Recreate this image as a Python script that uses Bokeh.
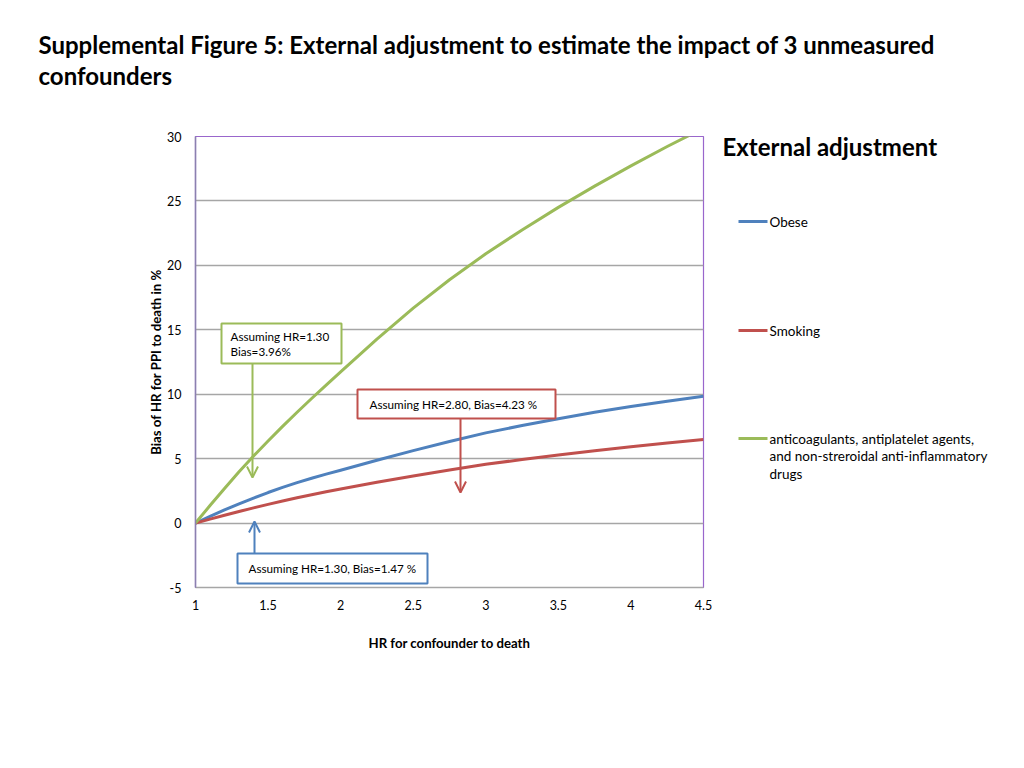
from bokeh.plotting import figure
from bokeh.layouts import column, row
from bokeh.models import (Range1d, Label, BoxAnnotation, Arrow, OpenHead,
                          FixedTicker, CustomJSTickFormatter)
from bokeh.core.properties import value
from bokeh.embed import file_html
from bokeh.resources import INLINE

# ---------------- data ----------------
hr = [1, 1.1, 1.2, 1.3, 1.4, 1.5, 1.6, 1.7, 1.8, 1.9, 2,
      2.25, 2.5, 2.75, 3, 3.25, 3.5, 3.75, 4, 4.25, 4.5]
obese = [0, 0.52, 1.02, 1.49, 1.94, 2.37, 2.77, 3.14, 3.48, 3.8, 4.1,
         4.88, 5.62, 6.33, 7.0, 7.57, 8.1, 8.6, 9.05, 9.46, 9.84]
smoking = [0, 0.31, 0.61, 0.9, 1.18, 1.45, 1.71, 1.96, 2.2, 2.43, 2.65,
           3.17, 3.66, 4.12, 4.56, 4.93, 5.28, 5.61, 5.92, 6.21, 6.49]
anticoag = [0, 1.36, 2.69, 3.98, 5.2, 6.37, 7.5, 8.6, 9.67, 10.71, 11.73,
            14.28, 16.68, 18.88, 20.9, 22.75, 24.5, 26.15, 27.72, 29.22, 30.65]

series_names = ["Obese", "Smoking",
                ["anticoagulants, antiplatelet agents,",
                 "and non-streroidal anti-inflammatory",
                 "drugs"]]
series_colors = ["#4F81BD", "#C0504D", "#9BBB59"]

x_ticks = [1, 1.5, 2, 2.5, 3, 3.5, 4, 4.5]
y_ticks = [-5, 0, 5, 10, 15, 20, 25, 30]

title_lines = ["Supplemental Figure 5: External adjustment to estimate the impact of 3 unmeasured",
               "confounders"]
legend_title = "External adjustment"
x_label = "HR for confounder to death"
y_label = "Bias of HR for PPI to death in %"

callouts = [
    (["Assuming HR=1.30", "Bias=3.96%"], "#9BBB59"),
    (["Assuming HR=2.80, Bias=4.23 %"], "#C0504D"),
    (["Assuming HR=1.30, Bias=1.47 %"], "#4F81BD"),
]

FONT = "Lato"

# ---------------- layout (page pixels) ----------------
TOTAL_W, TOTAL_H = 1016, 760
TITLE_H = 108
MAIN_W = 712
PL, PR, PT, PB = 195, 703, 136, 587      # plot frame on the page
X0, X1, Y0, Y1 = 1, 4.5, -5, 30
MAIN_H = TOTAL_H - TITLE_H


def dx(px):
    return X0 + (px - PL) * (X1 - X0) / (PR - PL)


def dy(py):
    return Y1 - (py - PT) * (Y1 - Y0) / (PB - PT)


def blank(w, h, x0, x1, y0, y1, **kw):
    f = figure(width=w, height=h, x_range=Range1d(x0, x1), y_range=Range1d(y1, y0),
               output_backend="svg", toolbar_location=None,
               x_axis_location=None, y_axis_location=None, **kw)
    f.grid.visible = False
    f.outline_line_color = None
    f.background_fill_color = "white"
    f.border_fill_color = "white"
    return f


# ---------------- title ----------------
tf = blank(TOTAL_W, TITLE_H, 0, TOTAL_W, 0, TITLE_H, min_border=0)
tf.text(x=[38, 38], y=[44, 75], text=title_lines, text_font=value(FONT),
        text_font_size="24px", text_font_style="bold", text_color="#000000",
        text_align="left", text_baseline="middle")

# ---------------- main plot ----------------
p = figure(width=MAIN_W, height=MAIN_H, x_range=Range1d(X0, X1), y_range=Range1d(Y0, Y1),
           output_backend="svg", toolbar_location=None,
           min_border_left=PL, min_border_right=MAIN_W - PR,
           min_border_top=PT - TITLE_H, min_border_bottom=MAIN_H - (PB - TITLE_H))
p.background_fill_color = "white"
p.border_fill_color = "white"
p.outline_line_color = "#9966CC"
p.outline_line_width = 1.2

p.xgrid.visible = False
p.ygrid.ticker = FixedTicker(ticks=y_ticks)
p.ygrid.grid_line_color = "#A6A6A6"
p.ygrid.grid_line_width = 1.5

fmt = CustomJSTickFormatter(code="return tick.toString();")
p.xaxis.ticker = FixedTicker(ticks=x_ticks)
p.yaxis.ticker = FixedTicker(ticks=y_ticks)
p.xaxis.formatter = fmt
p.yaxis.formatter = fmt
for ax in (p.xaxis, p.yaxis):
    ax.major_tick_line_color = None
    ax.minor_tick_line_color = None
    ax.major_label_text_font = FONT
    ax.major_label_text_font_size = "12.5px"
    ax.major_label_text_color = "#000000"
    ax.axis_label_text_font = FONT
    ax.axis_label_text_font_size = "13.2px"
    ax.axis_label_text_font_style = "bold"
    ax.axis_label_text_color = "#000000"
p.xaxis.axis_line_color = "#A6A6A6"
p.yaxis.axis_line_color = "#8B80B0"
p.xaxis.axis_line_width = 1.5
p.yaxis.axis_line_width = 1.5
p.xaxis.major_label_standoff = 6
p.yaxis.major_label_standoff = 8
p.xaxis.axis_label = x_label
p.yaxis.axis_label = y_label
p.xaxis.axis_label_standoff = 22
p.yaxis.axis_label_standoff = 0

for ys, col in zip([obese, smoking, anticoag], series_colors):
    p.line(hr, ys, line_color=col, line_width=3, line_join="round")

# callout boxes: (left, right, top, bottom, text positions, arrow x, arrow y0, arrow y1) in page px
boxes = [
    (221, 341, 323, 363, [(230, 335), (230, 350)], 252, 363, 477),
    (357, 555, 389, 418, [(369, 403)], 460, 418, 492),
    (237, 427, 553, 583, [(248, 567)], 254, 553, 521),
]
for (lines, col), (l, r, t, b, txtpos, ax_, ay0, ay1) in zip(callouts, boxes):
    p.add_layout(Arrow(end=OpenHead(size=11, line_color=col, line_width=2),
                       x_start=dx(ax_), y_start=dy(ay0), x_end=dx(ax_), y_end=dy(ay1),
                       line_color=col, line_width=2))
    p.add_layout(BoxAnnotation(left=dx(l), right=dx(r), top=dy(t), bottom=dy(b),
                               fill_color="white", fill_alpha=1.0,
                               line_color=col, line_width=2, line_alpha=1.0))
    for txt, (tx, ty) in zip(lines, txtpos):
        p.add_layout(Label(x=dx(tx), y=dy(ty), text=txt, text_font=FONT,
                           text_font_size="11.7px", text_color="#000000",
                           text_align="left", text_baseline="middle"))

# ---------------- legend panel ----------------
# its frame is aligned by the row with the main plot's frame (page y PT..PB)
lf = blank(TOTAL_W - MAIN_W, MAIN_H, MAIN_W, TOTAL_W, PT, PB, min_border=0)
lf.text(x=[722], y=[146], text=[legend_title], text_font=value(FONT),
        text_font_size="24px", text_font_style="bold", text_color="#000000",
        text_align="left", text_baseline="middle")
legend_rows = [221, 330, 438]
lf.segment(x0=[738] * 3, y0=legend_rows, x1=[767] * 3, y1=legend_rows,
           line_color=series_colors, line_width=3)
lx, ly, lt = [], [], []
for name, ry in zip(series_names, legend_rows):
    names = name if isinstance(name, list) else [name]
    for i, nm in enumerate(names):
        lx.append(769)
        ly.append(ry + i * 17.5)
        lt.append(nm)
lf.text(x=lx, y=ly, text=lt, text_font=value(FONT), text_font_size="13.5px",
        text_color="#000000", text_align="left", text_baseline="middle")

layout = column(tf, row(p, lf))
open("out.html", "w").write(file_html(layout, INLINE))
